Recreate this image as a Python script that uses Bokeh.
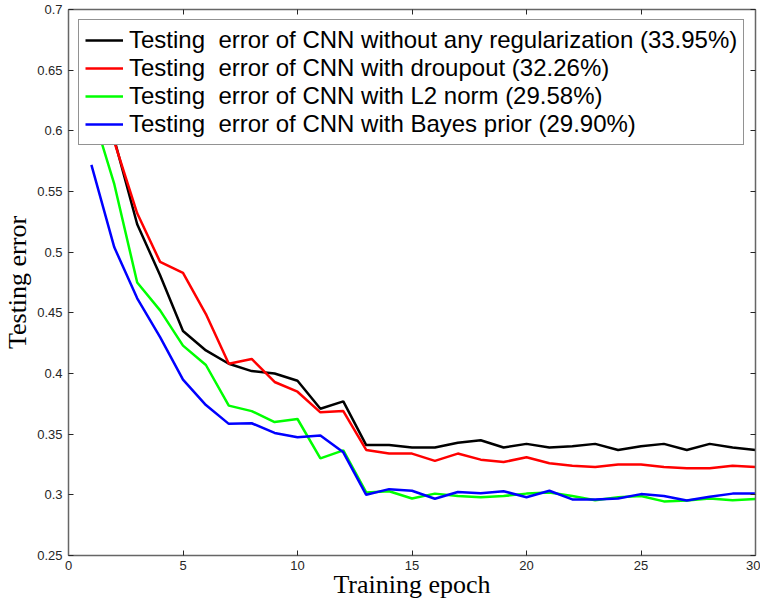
from bokeh.plotting import figure
from bokeh.models import (LinearAxis, FixedTicker, CustomJSTickFormatter, Legend, LegendItem, Range1d)
from bokeh.embed import file_html
from bokeh.resources import INLINE

epochs = list(range(1, 31))
err_none = [0.655, 0.593, 0.523, 0.481, 0.435, 0.419, 0.408, 0.402, 0.400, 0.394,
            0.371, 0.377, 0.341, 0.341, 0.339, 0.339, 0.343, 0.345, 0.339, 0.342,
            0.339, 0.340, 0.342, 0.337, 0.340, 0.342, 0.337, 0.342, 0.339, 0.337]
err_dropout = [0.645, 0.591, 0.532, 0.492, 0.483, 0.449, 0.408, 0.412, 0.393, 0.385,
               0.368, 0.369, 0.337, 0.334, 0.334, 0.328, 0.334, 0.329, 0.327, 0.331,
               0.326, 0.324, 0.323, 0.325, 0.325, 0.323, 0.322, 0.322, 0.324, 0.323]
err_l2 = [0.618, 0.556, 0.475, 0.452, 0.423, 0.407, 0.3735, 0.369, 0.360, 0.3625,
          0.330, 0.3366, 0.302, 0.303, 0.297, 0.301, 0.299, 0.298, 0.299, 0.301,
          0.302, 0.299, 0.2955, 0.298, 0.299, 0.2946, 0.2954, 0.297, 0.2956, 0.2965]
err_bayes = [0.572, 0.504, 0.462, 0.430, 0.395, 0.374, 0.3585, 0.359, 0.351, 0.3474,
             0.349, 0.335, 0.300, 0.3047, 0.3034, 0.2968, 0.3023, 0.3014, 0.303, 0.298,
             0.3034, 0.2962, 0.2962, 0.297, 0.3006, 0.299, 0.2954, 0.2984, 0.301, 0.301]

labels = [
    "Testing  error of CNN without any regularization (33.95%)",
    "Testing  error of CNN with droupout (32.26%)",
    "Testing  error of CNN with L2 norm (29.58%)",
    "Testing  error of CNN with Bayes prior (29.90%)",
]
colors = ["#000000", "#ff0000", "#00ff00", "#0000ff"]
series = [err_none, err_dropout, err_l2, err_bayes]

x_ticks = [0, 5, 10, 15, 20, 25, 30]
y_ticks = [0.25, 0.3, 0.35, 0.4, 0.45, 0.5, 0.55, 0.6, 0.65, 0.7]

p = figure(width=760, height=601, output_backend="svg", toolbar_location=None,
           x_range=Range1d(0, 30), y_range=Range1d(0.25, 0.7),
           min_border_left=66, min_border_right=5, min_border_top=9, min_border_bottom=0)
p.background_fill_color = "white"
p.border_fill_color = "white"
p.outline_line_color = None
p.xgrid.visible = False
p.ygrid.visible = False

fmt = CustomJSTickFormatter(code="return tick.toFixed(2).replace(/0+$/, '').replace(/\\.$/, '');")
blank = CustomJSTickFormatter(code="return '';")

axis_col = "#666666"
lab_col = "#262626"
for ax in (p.xaxis[0], p.yaxis[0]):
    ax.major_tick_in = 5
    ax.major_tick_out = 0
    ax.minor_tick_in = 0
    ax.minor_tick_out = 0
    ax.axis_line_color = axis_col
    ax.axis_line_width = 1.5
    ax.major_tick_line_color = lab_col
    ax.major_label_text_font = "Liberation Sans"
    ax.major_label_text_font_size = "13px"
    ax.major_label_text_color = lab_col
    ax.axis_label_text_font = "Liberation Serif"
    ax.axis_label_text_font_size = "26px"
    ax.axis_label_text_font_style = "normal"
    ax.axis_label_text_color = "#000000"

p.xaxis[0].ticker = FixedTicker(ticks=x_ticks)
p.yaxis[0].ticker = FixedTicker(ticks=y_ticks)
p.yaxis[0].formatter = fmt
p.xaxis[0].axis_label = "Training epoch"
p.yaxis[0].axis_label = "Testing error"
p.xaxis[0].major_label_standoff = 5
p.xaxis[0].axis_label_standoff = -3
p.xaxis[0].axis_label_text_baseline = "middle"
p.yaxis[0].major_label_standoff = 6
p.yaxis[0].axis_label_standoff = 2

for loc, ticks in (("above", x_ticks), ("right", y_ticks)):
    ax = LinearAxis(ticker=FixedTicker(ticks=ticks), formatter=blank)
    ax.major_tick_in = 5
    ax.major_tick_out = 0
    ax.minor_tick_in = 0
    ax.minor_tick_out = 0
    ax.axis_line_color = axis_col
    ax.axis_line_width = 1.5
    ax.major_tick_line_color = lab_col
    ax.major_label_text_font_size = "1px"
    ax.major_label_standoff = 0
    p.add_layout(ax, loc)

items = []
for lab, col, ys in zip(labels, colors, series):
    r = p.line(epochs, ys, line_color=col, line_width=2.5)
    items.append(LegendItem(label=lab, renderers=[r]))

legend = Legend(items=items, location="top_left")
legend.margin = 10
legend.padding = 6
legend.spacing = 0
legend.glyph_width = 38
legend.label_standoff = 6
legend.label_text_font = "Liberation Sans"
legend.label_text_font_size = "24px"
legend.label_text_color = "#000000"
legend.border_line_color = "#262626"
legend.border_line_width = 1
legend.background_fill_color = "white"
legend.background_fill_alpha = 1.0
p.add_layout(legend, "center")

open("out.html", "w").write(file_html(p, INLINE))
